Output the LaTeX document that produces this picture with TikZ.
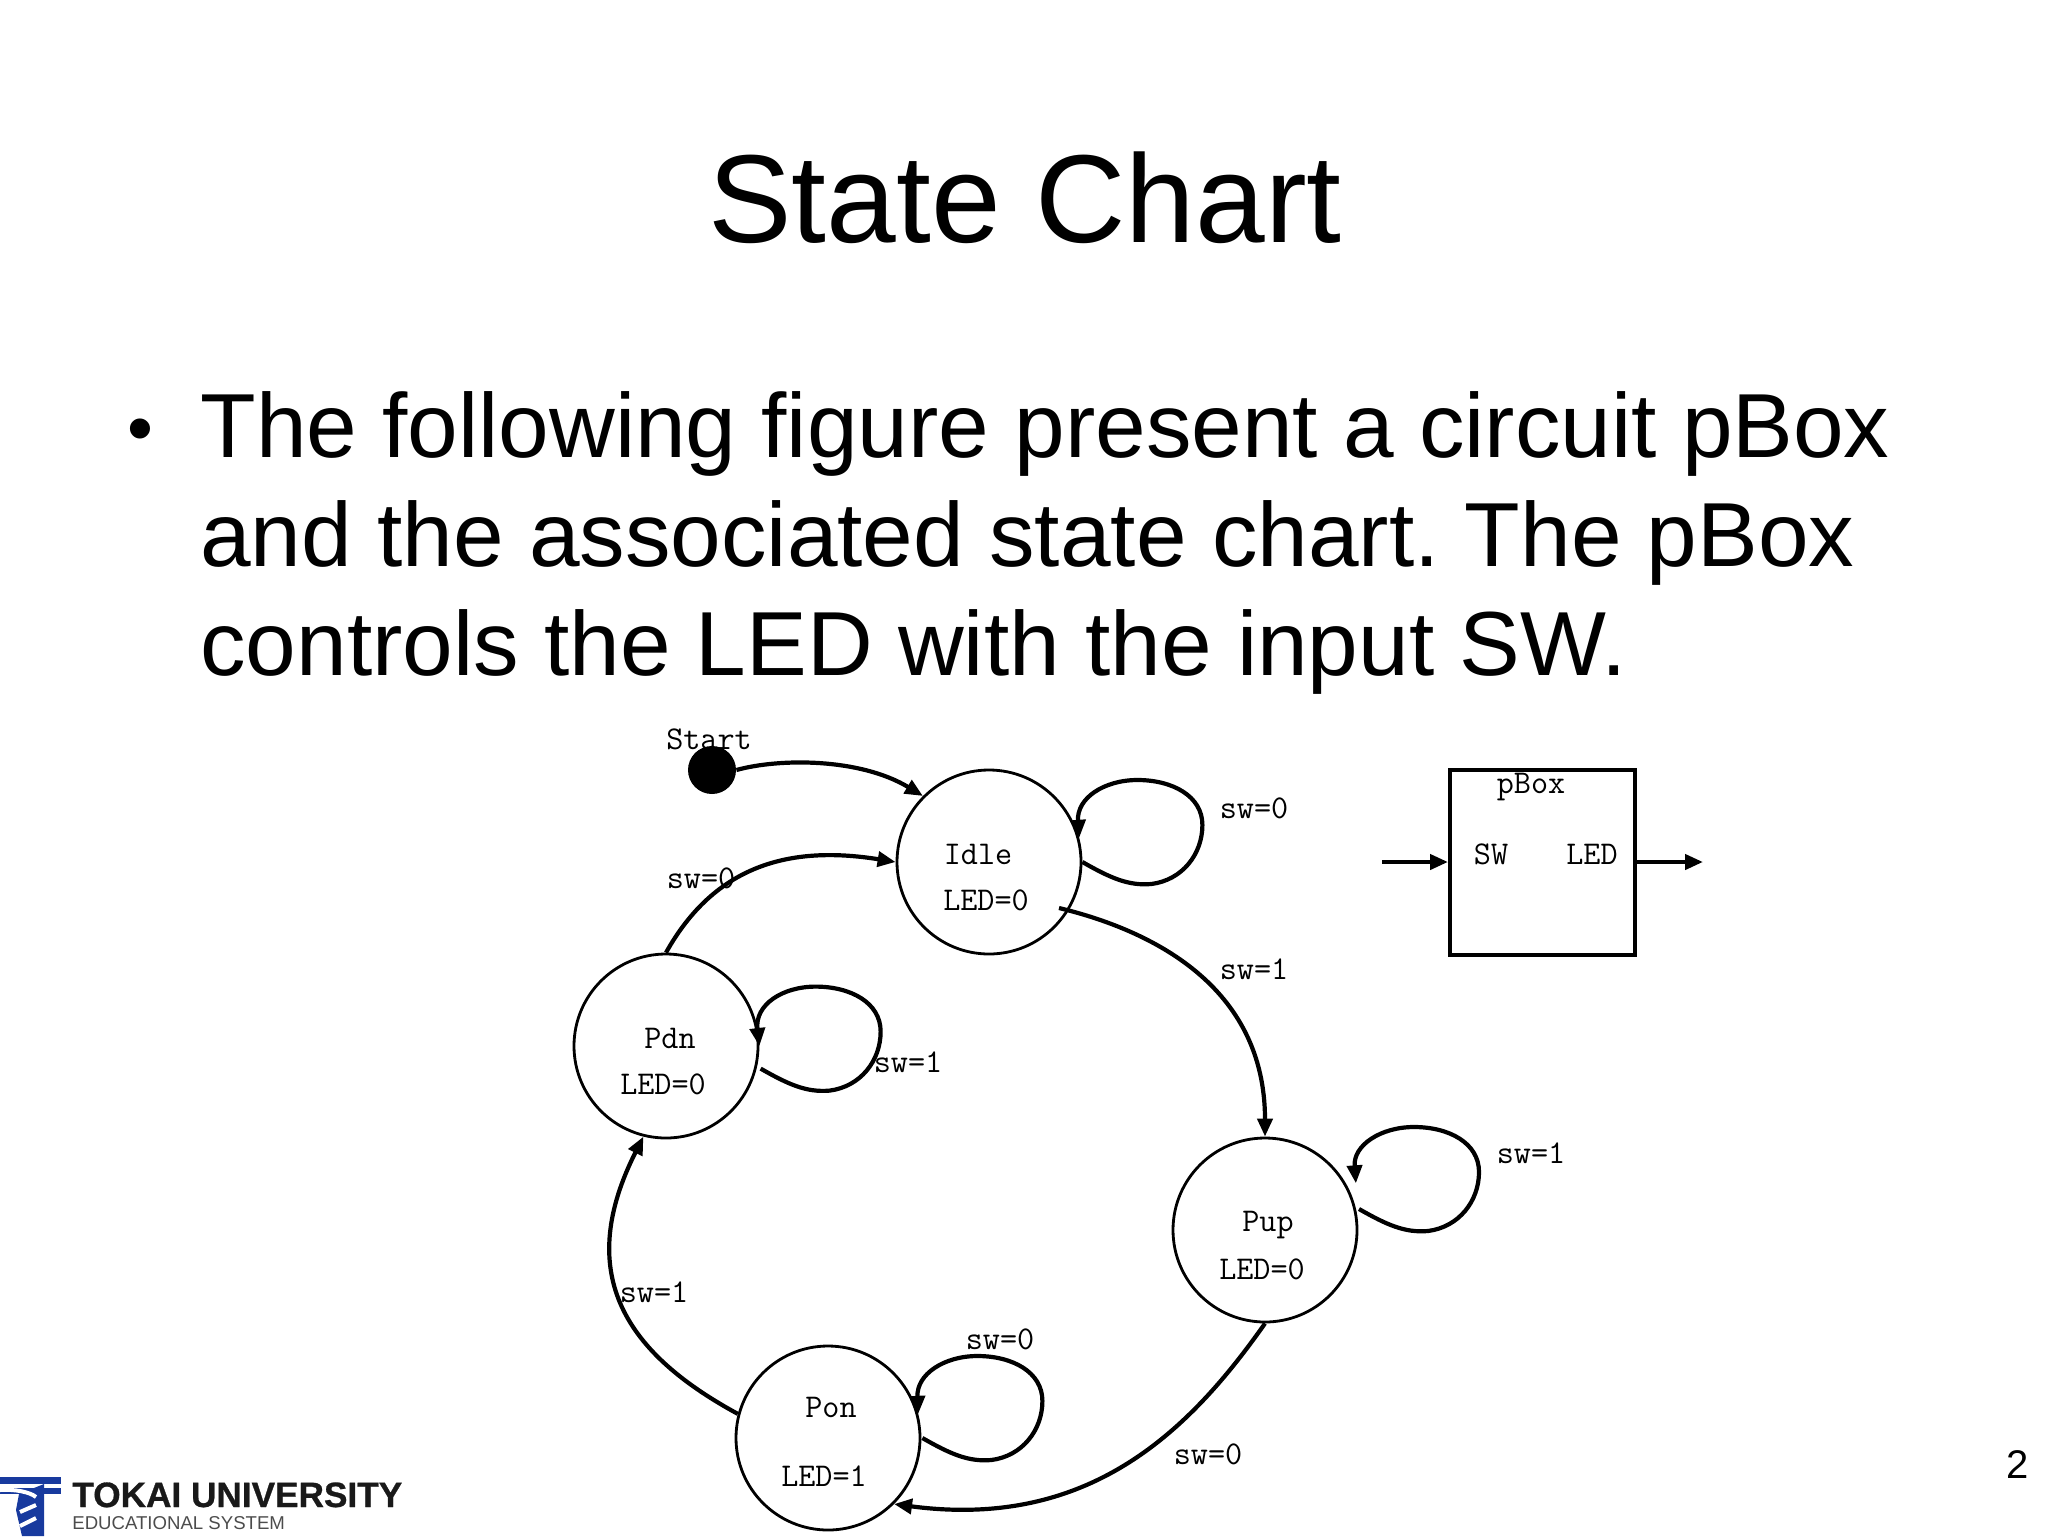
\documentclass[tikz,border=0pt]{standalone}
\usepackage{fontspec}
\setmainfont{Liberation Sans}
\usetikzlibrary{arrows.meta,positioning}
\definecolor{logoblue}{RGB}{24,58,158}
\tikzset{
  px/.style={x=0.5pt,y=-0.5pt},
  state/.style={circle,draw=black,line width=1.4pt,minimum size=92pt,inner sep=0pt},
  conn/.style={line width=2.1pt,-{Triangle[length=9pt,width=7.5pt]}},
  lab/.style={font=\ttfamily\fontsize{16.6}{16.6}\selectfont,inner sep=0pt,text=black},
  logoline/.style={line width=2pt,draw=white},
}
\newcommand{\selfloop}[2]{\begin{scope}[shift={(#1)}]
\draw[conn] (#1) .. controls (28,16) and (46,24) .. (69,22) .. controls (100,18) and (120,-8) .. (120,-37) .. controls (120,-66) and (90,-82) .. (55,-82) .. controls (22,-82) and (-6,-64) .. (#2);
\end{scope}}
\begin{document}
\begin{tikzpicture}[px]
\useasboundingbox (0,0) rectangle (2048,1536);
% slide text
\node[font=\fontsize{62.6}{62.6}\selectfont,inner sep=0pt] (title) at (1025,198) {State Chart};
\node[font=\fontsize{37}{37}\selectfont,inner sep=0pt] (bullet) at (140,436) {•};
\node[font=\frenchspacing\fontsize{45.5}{54.5}\selectfont,inner sep=0pt,align=left,anchor=north west] (body) at (200,391) {The following figure present a circuit pBox\\and the associated state chart. The pBox\\controls the LED with the input SW.};
\node[font=\fontsize{20}{20}\selectfont,inner sep=0pt] (pageno) at (2018,1465) {2};
% states
\node[state] (idle) at (989,862) {};
\node[state] (pdn) at (666,1046) {};
\node[state] (pup) at (1265,1230) {};
\node[state] (pon) at (828,1438) {};
\node[circle,fill=black,minimum size=24pt,inner sep=0pt] (start) at (712,770) {};
\coordinate (idleout) at (1059,908);
% box
\node[draw=black,line width=2pt,minimum size=92.5pt,inner sep=0pt] (pbox) at (1542.5,862) {};
\coordinate (boxin) at (1382,862);
\coordinate (boxout) at (1703,862);
% connectors
\draw[conn] (start.east) .. controls (780,758) and (860,758) .. (idle.135);
\draw[conn] (pdn.north) .. controls (715,865) and (790,845) .. (idle.west);
\draw[conn] (idleout) .. controls (1150,930) and (1265,985) .. (pup.north);
\draw[conn] (pup.south) .. controls (1190,1430) and (1090,1530) .. (pon.-45);
\draw[conn] (pon.165) .. controls (620,1350) and (576,1270) .. (pdn.-104);
\selfloop{idle.0}{idle.15}
\selfloop{[xshift=2pt]pdn.-14}{pdn.0}
\selfloop{[xshift=1.5pt]pup.13}{[xshift=5pt]pup.30}
\selfloop{[xshift=0.5pt]pon.0}{pon.15}
\draw[conn] (boxin) -- (pbox.west);
\draw[conn] (pbox.east) -- (boxout);
% labels
\node[lab] (lstart) at (709,739) {Start};
\node[lab] (l1) at (1254,808) {sw=0};
\node[lab] (l2) at (701,878) {sw=0};
\node[lab] (l3) at (1254,969) {sw=1};
\node[lab] (l4) at (908,1062) {sw=1};
\node[lab] (l5) at (1531,1153) {sw=1};
\node[lab] (l6) at (654,1292) {sw=1};
\node[lab] (l7) at (1000,1339) {sw=0};
\node[lab] (l8) at (1208,1454) {sw=0};
\node[lab] (nidle) at (978,854) {Idle};
\node[lab] (oidle) at (986,900) {LED=0};
\node[lab] (npdn) at (670,1038) {Pdn};
\node[lab] (opdn) at (663,1084) {LED=0};
\node[lab] (npup) at (1268,1225) {Pup};
\node[lab] (opup) at (1262,1269) {LED=0};
\node[lab] (npon) at (831,1407) {Pon};
\node[lab] (opon) at (824,1476) {LED=1};
\node[lab] (npbox) at (1531,787) {pBox};
\node[lab] (nsw) at (1491,854) {SW};
\node[lab] (nled) at (1592,854) {LED};
% logo
\fill[logoblue] (0,1477) rectangle (61,1484);
\fill[logoblue] (0,1488) rectangle (61,1494);
\fill[logoblue] (19,1494) -- (44,1484) -- (44,1536) -- (22,1536) -- (16,1510) -- cycle;
\draw[logoline] (0,1490) .. controls (15,1489) and (30,1492) .. (36,1497);
\draw[logoline] (20,1512) -- (36,1505);
\draw[logoline] (20,1526) -- (36,1518);
\node[font=\bfseries\fontsize{17.6}{17.6}\addfontfeature{FakeBold=0.8}\selectfont,inner sep=0pt,anchor=base west,text=black!90] (logo1) at (72,1507) {TOKAI UNIVERSITY};
\node[font=\fontsize{9.3}{9.3}\selectfont,inner sep=0pt,anchor=base west,text=black!70] (logo2) at (72,1529) {EDUCATIONAL SYSTEM};
\end{tikzpicture}
\end{document}
